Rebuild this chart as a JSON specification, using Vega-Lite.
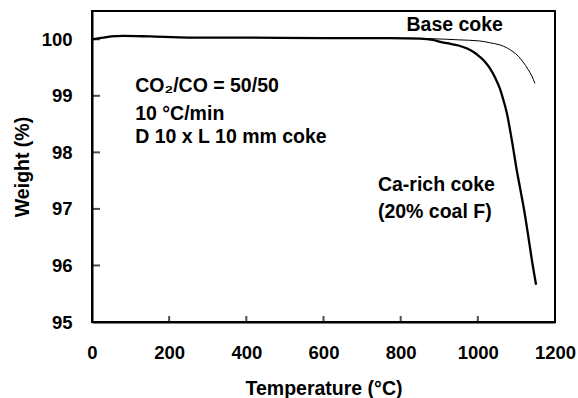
{
  "$schema": "https://vega.github.io/schema/vega-lite/v6.json",
  "width": 463,
  "height": 311,
  "autosize": {"type": "none"},
  "padding": {"left": 92, "top": 11, "right": 23, "bottom": 76},
  "background": "white",
  "config": {
    "view": {"stroke": "black", "strokeWidth": 2},
    "font": "Liberation Sans",
    "axis": {
      "domainColor": "black",
      "domainWidth": 2,
      "ticks": false,
      "tickSize": 0,
      "grid": false,
      "labelFlush": false,
      "labelOverlap": false,
      "labelFont": "Liberation Sans",
      "labelFontWeight": "bold",
      "labelFontSize": 18.5,
      "labelColor": "black",
      "titleFont": "Liberation Sans",
      "titleFontWeight": "bold",
      "titleFontSize": 19.5,
      "titleColor": "black"
    }
  },
  "datasets": {
    "tga": [
      {"series": "Ca-rich coke", "temp": 0, "weight": 100.0},
      {"series": "Ca-rich coke", "temp": 20, "weight": 100.02},
      {"series": "Ca-rich coke", "temp": 50, "weight": 100.05},
      {"series": "Ca-rich coke", "temp": 80, "weight": 100.06},
      {"series": "Ca-rich coke", "temp": 150, "weight": 100.05},
      {"series": "Ca-rich coke", "temp": 250, "weight": 100.03},
      {"series": "Ca-rich coke", "temp": 400, "weight": 100.03},
      {"series": "Ca-rich coke", "temp": 600, "weight": 100.02},
      {"series": "Ca-rich coke", "temp": 770, "weight": 100.02},
      {"series": "Ca-rich coke", "temp": 850, "weight": 100.01},
      {"series": "Ca-rich coke", "temp": 883, "weight": 99.99},
      {"series": "Ca-rich coke", "temp": 900, "weight": 99.96},
      {"series": "Ca-rich coke", "temp": 920, "weight": 99.93},
      {"series": "Ca-rich coke", "temp": 950, "weight": 99.89},
      {"series": "Ca-rich coke", "temp": 971, "weight": 99.84},
      {"series": "Ca-rich coke", "temp": 990, "weight": 99.77},
      {"series": "Ca-rich coke", "temp": 1005, "weight": 99.69},
      {"series": "Ca-rich coke", "temp": 1020, "weight": 99.59},
      {"series": "Ca-rich coke", "temp": 1031, "weight": 99.49},
      {"series": "Ca-rich coke", "temp": 1045, "weight": 99.32},
      {"series": "Ca-rich coke", "temp": 1057, "weight": 99.13},
      {"series": "Ca-rich coke", "temp": 1066, "weight": 98.93},
      {"series": "Ca-rich coke", "temp": 1075, "weight": 98.7},
      {"series": "Ca-rich coke", "temp": 1088, "weight": 98.22},
      {"series": "Ca-rich coke", "temp": 1100, "weight": 97.72},
      {"series": "Ca-rich coke", "temp": 1110, "weight": 97.35},
      {"series": "Ca-rich coke", "temp": 1120, "weight": 96.98},
      {"series": "Ca-rich coke", "temp": 1130, "weight": 96.55},
      {"series": "Ca-rich coke", "temp": 1140, "weight": 96.1},
      {"series": "Ca-rich coke", "temp": 1151, "weight": 95.66},
      {"series": "Base coke", "temp": 0, "weight": 100.0},
      {"series": "Base coke", "temp": 20, "weight": 100.02},
      {"series": "Base coke", "temp": 50, "weight": 100.05},
      {"series": "Base coke", "temp": 80, "weight": 100.06},
      {"series": "Base coke", "temp": 150, "weight": 100.05},
      {"series": "Base coke", "temp": 250, "weight": 100.03},
      {"series": "Base coke", "temp": 400, "weight": 100.03},
      {"series": "Base coke", "temp": 600, "weight": 100.02},
      {"series": "Base coke", "temp": 770, "weight": 100.02},
      {"series": "Base coke", "temp": 880, "weight": 100.01},
      {"series": "Base coke", "temp": 950, "weight": 99.99},
      {"series": "Base coke", "temp": 1005, "weight": 99.97},
      {"series": "Base coke", "temp": 1030, "weight": 99.94},
      {"series": "Base coke", "temp": 1057, "weight": 99.9},
      {"series": "Base coke", "temp": 1075, "weight": 99.85},
      {"series": "Base coke", "temp": 1091, "weight": 99.78},
      {"series": "Base coke", "temp": 1105, "weight": 99.7},
      {"series": "Base coke", "temp": 1117, "weight": 99.6},
      {"series": "Base coke", "temp": 1130, "weight": 99.47},
      {"series": "Base coke", "temp": 1140, "weight": 99.35},
      {"series": "Base coke", "temp": 1148, "weight": 99.22}
    ],
    "notes": [
      {"label": "CO₂/CO = 50/50", "temp": 112, "weight": 99.17, "anchor": "left"},
      {"label": "10 °C/min", "temp": 112, "weight": 98.68, "anchor": "left"},
      {"label": "D 10 x L 10 mm coke", "temp": 112, "weight": 98.27, "anchor": "left"},
      {"label": "Base coke", "temp": 940, "weight": 100.25, "anchor": "center"},
      {"label": "Ca-rich coke", "temp": 741, "weight": 97.43, "anchor": "left"},
      {"label": "(20% coal F)", "temp": 741, "weight": 96.95, "anchor": "left"}
    ],
    "xticks": [{"temp": 200}, {"temp": 400}, {"temp": 600}, {"temp": 800}, {"temp": 1000}],
    "yticks": [{"weight": 96}, {"weight": 97}, {"weight": 98}, {"weight": 99}, {"weight": 100}]
  },
  "layer": [
    {
      "data": {"name": "tga"},
      "mark": {"type": "line", "color": "black", "interpolate": "monotone"},
      "encoding": {
        "x": {
          "field": "temp",
          "type": "quantitative",
          "title": "Temperature (°C)",
          "scale": {"domain": [0, 1200], "nice": false, "zero": false},
          "axis": {
            "values": [0, 200, 400, 600, 800, 1000, 1200],
            "format": "d",
            "labelPadding": 21,
            "titlePadding": 18
          }
        },
        "y": {
          "field": "weight",
          "type": "quantitative",
          "title": "Weight (%)",
          "scale": {"domain": [95, 100.5], "nice": false, "zero": false},
          "axis": {
            "values": [95, 96, 97, 98, 99, 100],
            "format": "d",
            "labelPadding": 20,
            "titlePadding": 9
          }
        },
        "detail": {"field": "series"},
        "strokeWidth": {
          "field": "series",
          "type": "nominal",
          "scale": {"domain": ["Base coke", "Ca-rich coke"], "range": [1, 2.3]},
          "legend": null
        }
      }
    },
    {
      "data": {"name": "xticks"},
      "mark": {"type": "tick", "orient": "vertical", "color": "black", "size": 6, "thickness": 2, "yOffset": -3},
      "encoding": {
        "x": {"field": "temp", "type": "quantitative"},
        "y": {"datum": 95}
      }
    },
    {
      "data": {"name": "yticks"},
      "mark": {"type": "tick", "orient": "horizontal", "color": "black", "size": 8, "thickness": 2, "xOffset": 4},
      "encoding": {
        "y": {"field": "weight", "type": "quantitative"},
        "x": {"datum": 0}
      }
    },
    {
      "data": {"name": "notes"},
      "transform": [{"filter": "datum.anchor === 'left'"}],
      "mark": {
        "type": "text",
        "font": "Liberation Sans",
        "fontWeight": "bold",
        "fontSize": 19.5,
        "color": "black",
        "align": "left",
        "baseline": "middle"
      },
      "encoding": {
        "x": {"field": "temp", "type": "quantitative"},
        "y": {"field": "weight", "type": "quantitative"},
        "text": {"field": "label"}
      }
    },
    {
      "data": {"name": "notes"},
      "transform": [{"filter": "datum.anchor === 'center'"}],
      "mark": {
        "type": "text",
        "font": "Liberation Sans",
        "fontWeight": "bold",
        "fontSize": 19.5,
        "color": "black",
        "align": "center",
        "baseline": "middle"
      },
      "encoding": {
        "x": {"field": "temp", "type": "quantitative"},
        "y": {"field": "weight", "type": "quantitative"},
        "text": {"field": "label"}
      }
    }
  ]
}
